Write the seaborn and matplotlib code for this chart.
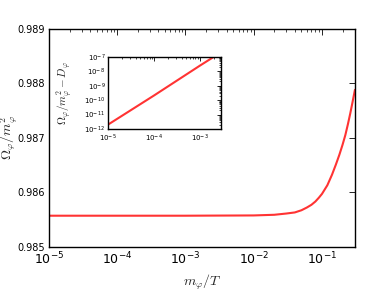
import numpy as np
import pandas as pd
import matplotlib
matplotlib.use("Agg")
import matplotlib.pyplot as plt
import seaborn as sns
from matplotlib.ticker import LogLocator, FixedLocator, FormatStrFormatter, NullFormatter

# ---- data ----
main_x = [1e-5, 1e-4, 1e-3, 1e-2, 0.02, 0.03, 0.04, 0.05, 0.06, 0.07, 0.08,
          0.09, 0.1, 0.12, 0.14, 0.16, 0.18, 0.2, 0.22, 0.24, 0.26, 0.28, 0.304]
main_y = [0.98557, 0.98557, 0.98557, 0.985575, 0.985587, 0.98561, 0.98563,
          0.98567, 0.98572, 0.98577, 0.98583, 0.98590, 0.98597, 0.98613,
          0.98632, 0.98651, 0.98669, 0.98687, 0.98705, 0.98725, 0.98745,
          0.98765, 0.98788]

inset_x = [1e-5, 1e-4, 1e-3, 3e-3]
inset_y = [2.0e-12, 2.1e-10, 2.5e-8, 2.3e-7]

main_yticks = [0.985, 0.986, 0.987, 0.988, 0.989]
inset_yticks = [1e-12, 1e-11, 1e-10, 1e-9, 1e-8, 1e-7]

sns.set_style("white")
plt.rcParams.update({
    "xtick.direction": "in", "ytick.direction": "in",
    "xtick.top": True, "ytick.right": True,
    "axes.edgecolor": "black", "axes.linewidth": 1.0,
    "xtick.color": "black", "ytick.color": "black",
    "xtick.major.size": 4, "ytick.major.size": 4,
    "xtick.minor.size": 2, "ytick.minor.size": 2,
    "xtick.major.width": 0.6, "ytick.major.width": 0.6,
    "xtick.minor.width": 0.5, "ytick.minor.width": 0.5,
})
plt.rcParams["font.family"] = ["DejaVu Sans"]

fig = plt.figure(figsize=(3.74, 2.91), dpi=100)
ax = fig.add_axes([0.131, 0.152, 0.818, 0.749])

df = pd.DataFrame({"x": main_x, "y": main_y})
sns.lineplot(data=df, x="x", y="y", ax=ax, color="#ff3333", linewidth=1.5)
ax.set_xscale("log")
ax.set_xlim(1e-5, 0.304)
ax.set_ylim(0.985, 0.989)
ax.yaxis.set_major_locator(FixedLocator(main_yticks))
ax.yaxis.set_major_formatter(FormatStrFormatter("%.3f"))
ax.xaxis.set_major_locator(LogLocator(base=10, numticks=20))
ax.xaxis.set_minor_locator(LogLocator(base=10, subs=np.arange(2, 10), numticks=20))
ax.xaxis.set_minor_formatter(NullFormatter())
ax.tick_params(axis="y", labelsize=7, pad=3)
ax.tick_params(axis="x", labelsize=9, pad=3)
ax.set_xlabel(r"$m_\varphi/T$", fontsize=10, math_fontfamily="cm", labelpad=4)
ax.set_ylabel(r"$\Omega_\varphi/m_\varphi^2$", fontsize=10, math_fontfamily="cm")
ax.yaxis.set_label_coords(-0.095, 0.5)

ins = fig.add_axes([0.289, 0.557, 0.302, 0.247])
dfi = pd.DataFrame({"x": inset_x, "y": inset_y})
sns.lineplot(data=dfi, x="x", y="y", ax=ins, color="#ff3333", linewidth=1.5)
ins.set_xscale("log")
ins.set_yscale("log")
ins.set_xlim(1e-5, 2.9e-3)
ins.set_ylim(1e-12, 1e-7)
ins.yaxis.set_major_locator(FixedLocator(inset_yticks))
ins.yaxis.set_minor_locator(LogLocator(base=10, subs=np.arange(2, 10), numticks=20))
ins.yaxis.set_minor_formatter(NullFormatter())
ins.xaxis.set_major_locator(LogLocator(base=10, numticks=20))
ins.xaxis.set_minor_locator(LogLocator(base=10, subs=np.arange(2, 10), numticks=20))
ins.xaxis.set_minor_formatter(NullFormatter())
ins.tick_params(labelsize=5)
ins.tick_params(axis="y", pad=2)
ins.tick_params(axis="x", pad=3)
ins.tick_params(which="major", length=3)
ins.tick_params(which="minor", length=1.5)
ins.set_xlabel("")
ins.set_ylabel(r"$\Omega_\varphi/m_\varphi^2-D_\varphi$", fontsize=8,
               math_fontfamily="cm")
ins.yaxis.set_label_coords(-0.29, 0.5)

fig.savefig("out.png", dpi=100)
